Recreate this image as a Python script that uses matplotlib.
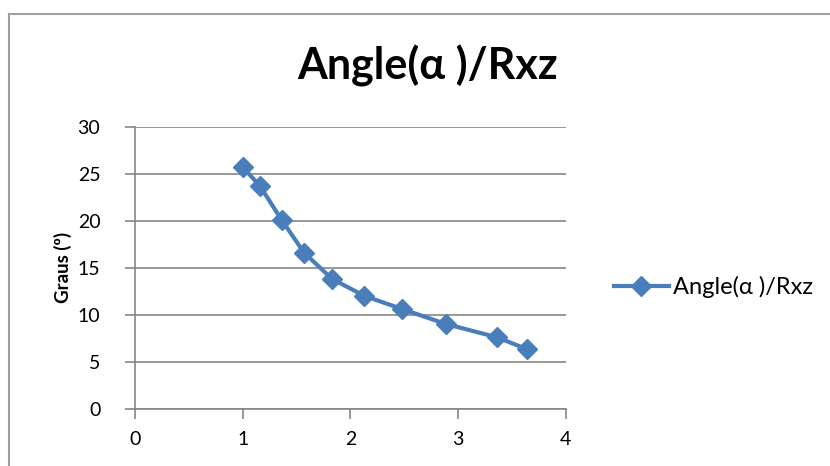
import matplotlib
matplotlib.use("Agg")
import matplotlib.pyplot as plt
from matplotlib.lines import Line2D

# data
rxz = [1.00, 1.16, 1.36, 1.57, 1.83, 2.13, 2.48, 2.89, 3.36, 3.635]
angle = [25.7, 23.7, 20.1, 16.6, 13.8, 12.0, 10.6, 9.0, 7.6, 6.35]
x_ticks = [0, 1, 2, 3, 4]
y_ticks = [0, 5, 10, 15, 20, 25, 30]
series_name = "Angle(α )/Rxz"

plt.rcParams['font.family'] = ['Lato', 'DejaVu Sans']

blue = '#4a7ebb'
gray = '#868686'

fig = plt.figure(figsize=(8.3, 4.66), dpi=100)
ax = fig.add_axes([0.1627, 0.123, 0.519, 0.605])

ax.plot(rxz, angle, color=blue, linewidth=3, marker='D', markersize=10.5,
        label=series_name, zorder=3)

ax.set_xlim(0, 4)
ax.set_ylim(0, 30)
ax.set_xticks(x_ticks)
ax.set_yticks(y_ticks)
ax.yaxis.grid(True, color=gray, linewidth=1.2)
ax.set_axisbelow(True)

for s in ['top', 'right']:
    ax.spines[s].set_visible(False)
for s in ['left', 'bottom']:
    ax.spines[s].set_color(gray)
    ax.spines[s].set_linewidth(1.2)
ax.tick_params(colors=gray, length=7, width=1.2, labelsize=14, labelcolor='black')
ax.tick_params(axis='y', pad=18)
ax.tick_params(axis='x', pad=9)

ax.set_ylabel("Graus (º)", fontsize=13.5, fontweight='bold', labelpad=4)
fig.text(0.515, 0.858, series_name, ha='center', va='center', fontsize=31, fontweight='bold')

leg = fig.legend(handles=[Line2D([], [], color=blue, linewidth=3, marker='D', markersize=10.5)],
                 labels=[series_name], loc='center left', bbox_to_anchor=(0.74, 0.384),
                 frameon=False, fontsize=17, handlelength=2.3, handletextpad=0.2,
                 borderaxespad=0, borderpad=0)

# chart area border (only left and top visible in the crop)
fig.add_artist(Line2D([9 / 830, 9 / 830], [0, 1 - 14 / 466], color='#a0a0a0', linewidth=1.5))
fig.add_artist(Line2D([9 / 830, 1], [1 - 14 / 466, 1 - 14 / 466], color='#a0a0a0', linewidth=1.5))

fig.savefig("out.png", dpi=100)
